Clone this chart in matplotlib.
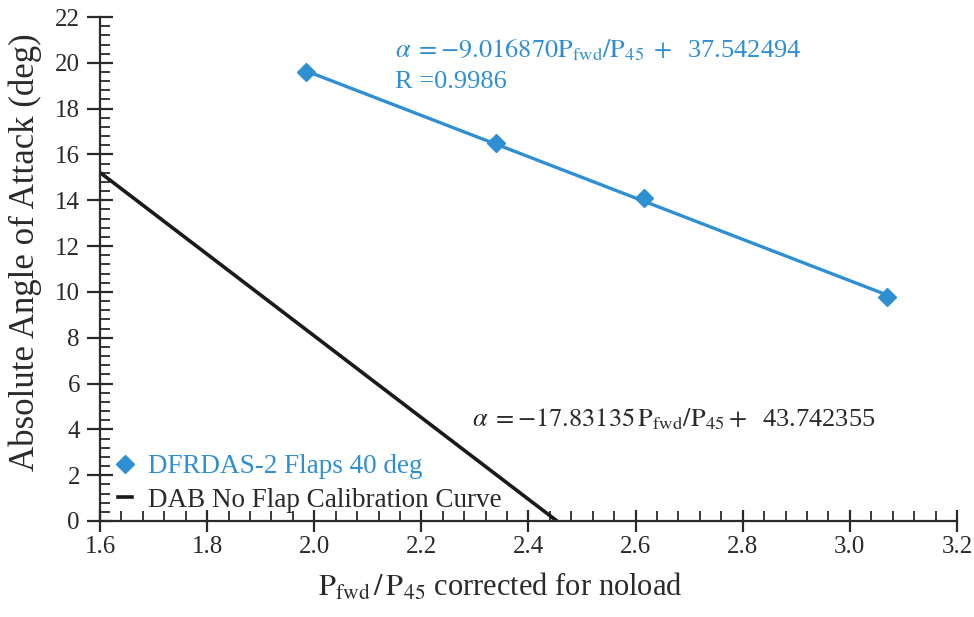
import numpy as np
import matplotlib
matplotlib.use("Agg")
import matplotlib.pyplot as plt
from matplotlib.ticker import MultipleLocator

plt.rcParams["font.family"] = ["Liberation Serif", "DejaVu Serif"]
plt.rcParams["mathtext.fontset"] = "stix"

# DFRDAS-2 flaps 40 deg measurements
p_ratio = [1.985, 2.34, 2.615, 3.07]
alpha = [19.6, 16.5, 14.1, 9.8]

# linear fit coefficients
fit_slope = -9.016870
fit_icpt = 37.542494
fit_r = 0.9986

# DAB no-flap calibration curve
cal_slope = -17.83135
cal_icpt = 43.742355
cal_x0 = 1.6

blue = "#2f8fd3"
dark = "#2a2a2a"

fig = plt.figure(figsize=(9.74, 6.17), dpi=100)
ax = fig.add_axes([0.1027, 0.1556, 0.8798, 0.8168])

# fitted line through the measured range
xf = np.array([p_ratio[0], p_ratio[-1]])
ax.plot(xf, fit_slope * xf + fit_icpt, color=blue, lw=2.4, zorder=2)
ax.plot(p_ratio, alpha, ls="none", marker="D", ms=9.5, color=blue,
        label="DFRDAS-2 Flaps 40 deg", zorder=3)

# calibration line down to alpha = 0
xc = np.array([cal_x0, -cal_icpt / cal_slope])
ax.plot(xc, cal_slope * xc + cal_icpt, color="#1a1a1a", lw=2.6,
        label="DAB No Flap Calibration Curve", zorder=2)

ax.set_xlim(1.6, 3.2)
ax.set_ylim(0, 22)
ax.xaxis.set_major_locator(MultipleLocator(0.2))
ax.xaxis.set_minor_locator(MultipleLocator(0.04))
ax.yaxis.set_major_locator(MultipleLocator(2))
ax.yaxis.set_minor_locator(MultipleLocator(0.4))
ax.xaxis.set_major_formatter(plt.FuncFormatter(lambda v, p: f"{v:.1f}"))

for s in ["top", "right"]:
    ax.spines[s].set_visible(False)
for s in ["left", "bottom"]:
    ax.spines[s].set_linewidth(1.6)
    ax.spines[s].set_color(dark)

ax.tick_params(which="major", direction="inout", width=1.6, colors=dark,
               labelsize=18)
ax.tick_params(axis="x", which="major", length=16, pad=3)
ax.tick_params(axis="y", which="major", length=19, pad=5)
ax.tick_params(which="minor", direction="in", length=7, width=1.3, colors=dark)

ax.set_ylabel("Absolute Angle of Attack (deg)", fontsize=25, color=dark)
ax.yaxis.set_label_coords(-0.068, 0.534)
ax.set_xlabel(r"$\mathrm{P_{fwd}\,/\,P_{45}}$ corrected for noload", fontsize=22,
              color=dark)
ax.xaxis.set_label_coords(0.467, -0.1)

ax.text(2.15, 20.25,
        r"$\alpha\;=-9.016870\mathrm{P_{fwd}/P_{45}}\;+\;$ 37.542494",
        fontsize=19, color=blue, va="baseline")
ax.text(2.15, 18.9, f"R ={fit_r:.4f}", fontsize=19, color=blue, va="baseline")

ax.text(2.295, 4.15,
        r"$\alpha\;=-17.83135\,\mathrm{P_{fwd}/P_{45}}+\;$ 43.742355",
        fontsize=19, color=dark, va="baseline")

leg = ax.legend(loc="lower left", frameon=False, fontsize=19.5, handlelength=0.5,
                handletextpad=0.6, borderaxespad=0.0, borderpad=0.3,
                labelspacing=0.32, bbox_to_anchor=(0.012, 0.0))
leg.get_texts()[0].set_color(blue)
leg.get_texts()[1].set_color(dark)

fig.savefig("out.png", dpi=100)
